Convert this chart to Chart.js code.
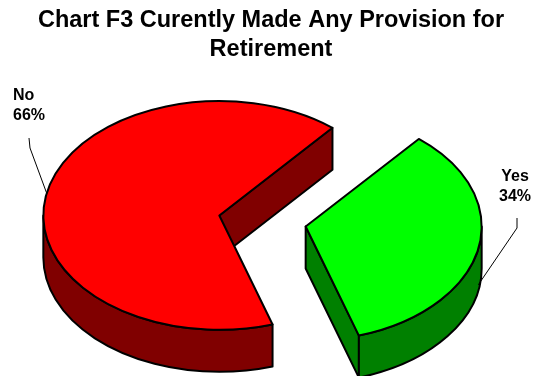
<!DOCTYPE html>
<html>
<head>
<meta charset="utf-8">
<script src="https://cdn.jsdelivr.net/npm/chart.js@4.4.1/dist/chart.umd.min.js"></script>
<style>
  html, body { margin: 0; padding: 0; background: #fff; overflow: hidden; }
  #wrap { width: 536px; height: 376px; position: relative; }
</style>
</head>
<body>
<div id="wrap"><canvas id="retirement-chart"></canvas></div>
<script>
const sliceLabels = ['Yes', 'No'];
const sliceShares = [34, 66];
const topColors = ['#00ff00', '#ff0000'];
const sideColors = ['#008000', '#800000'];
const titleLines = ['Chart F3 Curently Made Any Provision for', 'Retirement'];

const TILT = 0.65;     // vertical squash of the pie top
const DEPTH = 42;      // thickness of the pie in px
const EXPLODE = 44;    // how far each slice is pulled away from the middle

// label text position, leader line start, and how far below the rim the leader ends
const labelSpots = [
  { x: 515, y: 177, align: 'center', lead: [[517, 218], [517, 228]], drop: 36 },
  { x: 13, y: 96, align: 'left', lead: [[29, 138], [30, 148]], drop: 0 }
];

const FONT = '"Liberation Sans", Arial, sans-serif';

const centerY = chart => (chart.chartArea.top + chart.chartArea.bottom) / 2;

// title sits a little right of the pie centre, so it is drawn here
const titlePlugin = {
    id: 'sideTitle',
    afterDraw(chart) {
        const ctx = chart.ctx;
        ctx.save();
        ctx.fillStyle = '#000';
        ctx.font = 'bold 23.5px ' + FONT;
        ctx.textAlign = 'center';
        ctx.textBaseline = 'middle';
        titleLines.forEach((line, i) => ctx.fillText(line, 271, 21 + i * 29));
        ctx.restore();
    }
};

// fake 3d: pull slices apart, draw the walls, squash the top faces
const pie3d = {
    id: 'pie3d',
    afterDatasetsUpdate(chart) {
        chart.getDatasetMeta(0).data.forEach(arc => {
            const mid = (arc.startAngle + arc.endAngle) / 2;
            arc.x += Math.cos(mid) * EXPLODE;
            arc.y += Math.sin(mid) * EXPLODE;
        });
    },
    beforeDatasetsDraw(chart) {
        const ctx = chart.ctx;
        const cy = centerY(chart);
        const arcs = chart.getDatasetMeta(0).data;
        ctx.save();
        ctx.lineWidth = 2;
        ctx.strokeStyle = '#000';
        ctx.lineJoin = 'round';
        arcs.forEach((arc, i) => {
            const x = arc.x;
            const y = cy + (arc.y - cy) * TILT;
            const rx = arc.outerRadius;
            const ry = rx * TILT;
            ctx.fillStyle = sideColors[i];
            // cut faces that turn towards the viewer
            [[arc.startAngle, -1], [arc.endAngle, 1]].forEach(([a, s]) => {
                if (s * Math.cos(a) <= 0) return;
                const px = x + Math.cos(a) * rx;
                const py = y + Math.sin(a) * ry;
                ctx.beginPath();
                ctx.moveTo(x, y);
                ctx.lineTo(px, py);
                ctx.lineTo(px, py + DEPTH);
                ctx.lineTo(x, y + DEPTH);
                ctx.closePath();
                ctx.fill();
                ctx.stroke();
            });
            // outer rim, only the front half shows
            for (let k = -1; k <= 1; k++) {
                const lo = Math.max(arc.startAngle, 2 * Math.PI * k);
                const hi = Math.min(arc.endAngle, 2 * Math.PI * k + Math.PI);
                if (hi <= lo) continue;
                ctx.beginPath();
                ctx.ellipse(x, y, rx, ry, 0, lo, hi);
                ctx.ellipse(x, y + DEPTH, rx, ry, 0, hi, lo, true);
                ctx.closePath();
                ctx.fill();
                ctx.stroke();
            }
        });
        ctx.restore();
        // the pie controller draws the tops inside this squash
        ctx.save();
        ctx.translate(0, cy);
        ctx.scale(1, TILT);
        ctx.translate(0, -cy);
    },
    afterDatasetsDraw(chart) {
        const ctx = chart.ctx;
        ctx.restore();
        const cy = centerY(chart);
        const arcs = chart.getDatasetMeta(0).data;
        ctx.save();
        ctx.strokeStyle = '#000';
        ctx.lineJoin = 'round';
        arcs.forEach((arc, i) => {
            const x = arc.x;
            const y = cy + (arc.y - cy) * TILT;
            const rx = arc.outerRadius;
            const ry = rx * TILT;
            ctx.lineWidth = 2;
            ctx.beginPath();
            ctx.moveTo(x, y);
            ctx.ellipse(x, y, rx, ry, 0, arc.startAngle, arc.endAngle);
            ctx.closePath();
            ctx.stroke();

            // data label with leader line
            const spot = labelSpots[i];
            ctx.fillStyle = '#000';
            ctx.font = 'bold 16px ' + FONT;
            ctx.textAlign = spot.align;
            ctx.textBaseline = 'middle';
            ctx.fillText(sliceLabels[i], spot.x, spot.y);
            ctx.fillText(sliceShares[i] + '%', spot.x, spot.y + 20);
            const mid = (arc.startAngle + arc.endAngle) / 2;
            const ex = x + Math.cos(mid) * rx;
            const ey = y + Math.sin(mid) * ry + spot.drop;
            ctx.lineWidth = 1;
            ctx.beginPath();
            ctx.moveTo(spot.lead[0][0], spot.lead[0][1]);
            ctx.lineTo(spot.lead[1][0], spot.lead[1][1]);
            ctx.lineTo(ex, ey);
            ctx.stroke();
        });
        ctx.restore();
    }
};

const retirementChart = new Chart(document.getElementById('retirement-chart'), {
    type: 'pie',
    data: {
        labels: sliceLabels,
        datasets: [{
            data: sliceShares,
            backgroundColor: topColors,
            borderWidth: 0,
            clip: false
        }]
    },
    options: {
        responsive: true,
        maintainAspectRatio: false,
        animation: false,
        events: [],
        rotation: 40,
        radius: 176,
        layout: {
            padding: { left: 0, right: 11, top: 66, bottom: -9 }
        },
        plugins: {
            legend: { display: false },
            tooltip: { enabled: false },
            title: { display: false }
        }
    },
    plugins: [pie3d, titlePlugin]
});
</script>
</body>
</html>
